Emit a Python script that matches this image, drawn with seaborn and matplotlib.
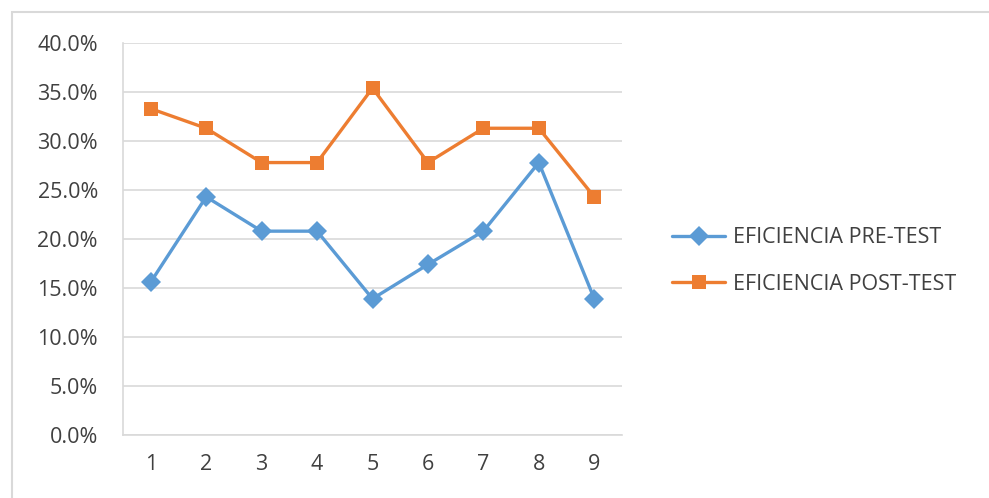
import matplotlib
matplotlib.use("Agg")
import matplotlib.pyplot as plt
import matplotlib.ticker as mtick
from matplotlib.patches import Rectangle
import seaborn as sns
import pandas as pd

semanas = [1, 2, 3, 4, 5, 6, 7, 8, 9]
pre_test = [15.6, 24.3, 20.8, 20.8, 13.9, 17.4, 20.8, 27.8, 13.9]
post_test = [33.3, 31.3, 27.8, 27.8, 35.4, 27.8, 31.3, 31.3, 24.3]
series_names = ["EFICIENCIA PRE-TEST", "EFICIENCIA POST-TEST"]
y_ticks = [0, 5, 10, 15, 20, 25, 30, 35, 40]

df = pd.DataFrame({
    "x": semanas * 2,
    "valor": pre_test + post_test,
    "serie": [series_names[0]] * len(pre_test) + [series_names[1]] * len(post_test),
})

sns.set_theme(style="white")
plt.rcParams["font.family"] = ["Open Sans", "DejaVu Sans"]

fig = plt.figure(figsize=(9.89, 4.98), dpi=100)
ax = fig.add_axes([123 / 989, 1 - 435 / 498, (622 - 123) / 989, (435 - 43) / 498])

colors = {series_names[0]: "#5B9BD5", series_names[1]: "#ED7D31"}
sns.lineplot(data=df, x="x", y="valor", hue="serie", style="serie",
             markers={series_names[0]: "D", series_names[1]: "s"},
             dashes=False, palette=colors, linewidth=2.4, markersize=10,
             markeredgewidth=0, ax=ax)

ax.set_xlim(0.5, 9.5)
ax.set_ylim(0, 40)
ax.set_yticks(y_ticks)
ax.yaxis.set_major_formatter(mtick.FuncFormatter(lambda v, p: f"{v:.1f}%"))
ax.set_xticks(semanas)
ax.set_xticks([i + 0.5 for i in range(0, 10)], minor=True)
ax.grid(axis="y", color="#D9D9D9", linewidth=1.2)
ax.set_axisbelow(True)
ax.set_xlabel("")
ax.set_ylabel("")
for s in ["top", "right"]:
    ax.spines[s].set_visible(False)
for s in ["left", "bottom"]:
    ax.spines[s].set_color("#D9D9D9")
    ax.spines[s].set_linewidth(1.2)
ax.tick_params(axis="y", length=7, color="#D9D9D9", width=1.2, pad=11,
               labelsize=15.5, labelcolor="#404040")
ax.tick_params(axis="x", which="major", length=0, pad=14, labelsize=15.5, labelcolor="#404040")
ax.tick_params(axis="x", which="minor", length=5, color="#D9D9D9", width=1.2, direction="out")

handles, labels = ax.get_legend_handles_labels()
leg = fig.legend(handles, labels, loc="center left", bbox_to_anchor=(663 / 989, 1 - 261 / 498),
                 frameon=False, fontsize=15.5, labelspacing=1.2, handlelength=2.5,
                 handletextpad=0.35, borderaxespad=0)
for t in leg.get_texts():
    t.set_color("#404040")
if ax.get_legend():
    ax.get_legend().remove()

fig.patches.append(Rectangle((12 / 989, -0.05), 1.0, 1 - 12 / 498 + 0.05,
                             transform=fig.transFigure, fill=False,
                             edgecolor="#D9D9D9", linewidth=1.5))

fig.savefig("out.png", dpi=100)
